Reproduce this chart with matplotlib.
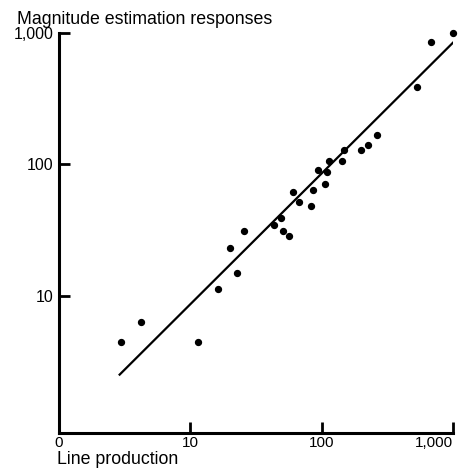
import matplotlib
matplotlib.use("Agg")
import matplotlib.pyplot as plt

plt.rcParams['font.family'] = ['Liberation Sans', 'DejaVu Sans']

# line production (x) vs magnitude estimation (y)
line_prod = [2.95, 4.25, 11.4, 16.4, 20.1, 22.7, 25.5, 43.8, 48.9, 50.9, 56.2,
             60.6, 67, 83, 85.9, 93.8, 107, 110, 114, 142, 147, 199, 227, 264,
             531, 681, 1000]
magnitude = [4.45, 6.3, 4.4, 11.2, 22.9, 14.8, 31.2, 34.5, 39.0, 31.2, 28.6,
             61.1, 51.3, 48.3, 63.2, 90.8, 71.1, 86.6, 106, 105, 128, 128, 139, 167,
             384, 855, 1000]

fit_x = [2.9, 1000]
fit_y = [2.5, 840]

xticks = [1, 10, 100, 1000]
xtick_labels = ["0", "10", "100", "1,000"]
yticks = [10, 100, 1000]
ytick_labels = ["10", "100", "1,000"]

fig = plt.figure(figsize=(4.64, 4.69), dpi=100)
ax = fig.add_axes([0.127, 0.077, 0.849, 0.853])

ax.plot(fit_x, fit_y, color="black", linewidth=1.6)
ax.scatter(line_prod, magnitude, s=18, color="black", zorder=3, clip_on=False)

ax.set_xscale("log")
ax.set_yscale("log")
ax.set_xlim(1, 1000)
ax.set_ylim(0.9, 1000)
ax.minorticks_off()
ax.set_xticks(xticks)
ax.set_xticklabels(xtick_labels)
ax.set_yticks(yticks)
ax.set_yticklabels(ytick_labels)
# last x label sits to the left of its tick, as in the print
ax.get_xticklabels()[-1].set_horizontalalignment("right")

for s in ["top", "right"]:
    ax.spines[s].set_visible(False)
for s in ["left", "bottom"]:
    ax.spines[s].set_linewidth(2.2)

ax.tick_params(direction="in", length=8, width=2)
ax.tick_params(axis="y", labelsize=11.5, pad=4)
ax.tick_params(axis="x", labelsize=11, pad=2.5)

fig.text(17 / 464, 1 - 11 / 469, "Magnitude estimation responses",
         fontsize=12.8, va="top", ha="left")
fig.text(57 / 464, 1 - 464 / 469, "Line production",
         fontsize=12.8, va="baseline", ha="left")

fig.savefig("out.png", dpi=100)
